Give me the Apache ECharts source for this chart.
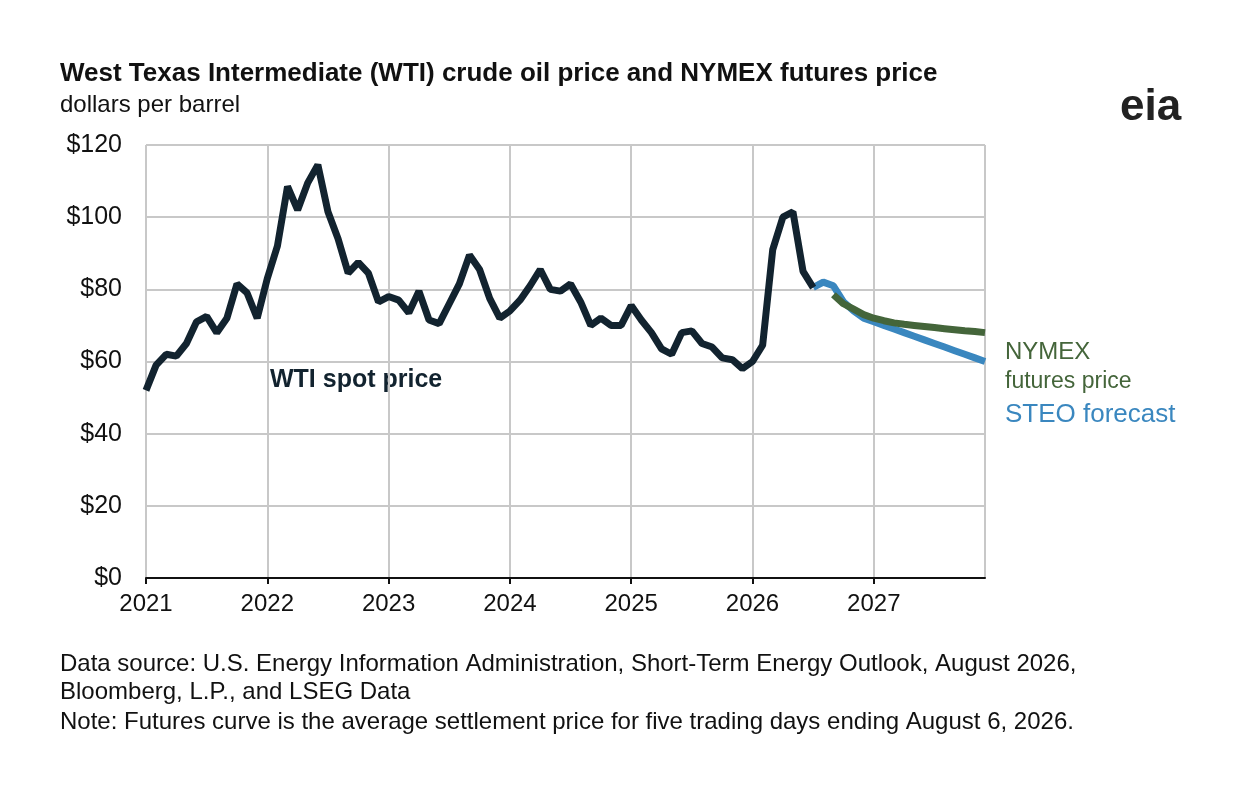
<!DOCTYPE html>
<html><head><meta charset="utf-8">
<script src="https://cdn.jsdelivr.net/npm/echarts@6/dist/echarts.min.js"></script>
<style>body{margin:0;background:#fff}#c{width:1248px;height:806px}</style>
</head><body><div id="c"></div>
<script>
var years = ['2021', '2022', '2023', '2024', '2025', '2026', '2027'];
var months = [];
years.forEach(function (y) { for (var m = 1; m <= 12; m++) months.push(y + '-' + m); });

var wtiSpot = [52, 59, 62, 61.5, 65, 71, 72.5, 68, 72, 81.5, 79, 72,
	83, 92, 108.5, 102, 109.5, 114.5, 101.5, 94, 84.5, 87.5, 84.5, 76.5,
	78, 77, 73.5, 79.5, 71.5, 70.5, 76, 81.5, 89.5, 85.5, 77.5, 72,
	74, 77, 81, 85.5, 80, 79.5, 81.5, 76.5, 70, 72, 70, 70,
	75.5, 71.5, 68, 63.5, 62, 68, 68.5, 65, 64, 61, 60.5, 58,
	60, 64.5, 91, 100, 101.5, 85, 80.5];
var steo = [80.5, 82, 81, 76.5, 74, 72,
	71, 70, 69, 68, 67, 66, 65, 64, 63, 62, 61, 60];
var nymex = [78.5, 76, 74.5, 73,
	72, 71.3, 70.7, 70.3, 70, 69.7, 69.4, 69.1, 68.8, 68.5, 68.3, 68];
var yTicks = [0, 20, 40, 60, 80, 100, 120];

function pad(arr, start) {
	var out = [];
	for (var i = 0; i < months.length; i++) {
		var j = i - start;
		out.push(j >= 0 && j < arr.length ? arr[j] : null);
	}
	return out;
}

var chart = echarts.init(document.getElementById('c'));
var font = 'Liberation Sans, Arial, sans-serif';
chart.setOption({
	animation: false,
	textStyle: { fontFamily: font },
	grid: { left: 146, right: 263, top: 145, bottom: 228 },
	graphic: [
		{ type: 'text', left: 60, top: 61, style: { text: 'West Texas Intermediate (WTI) crude oil price and NYMEX futures price', font: 'bold 26px ' + font, fill: '#111' } },
		{ type: 'text', left: 60, top: 93, style: { text: 'dollars per barrel', font: '24px ' + font, fill: '#111' } },
		{ type: 'text', left: 1120, top: 86, style: { text: 'eia', font: 'bold 44px ' + font, fill: '#222' } },
		{ type: 'text', left: 270, top: 368, style: { text: 'WTI spot price', font: 'bold 25px ' + font, fill: '#12232f' } },
		{ type: 'text', left: 1005, top: 340, style: { text: 'NYMEX', font: '24px ' + font, fill: '#44653a' } },
		{ type: 'text', left: 1005, top: 370, style: { text: 'futures price', font: '23px ' + font, fill: '#44653a' } },
		{ type: 'text', left: 1005, top: 402, style: { text: 'STEO forecast', font: '26px ' + font, fill: '#3a87bf' } },
		{ type: 'text', left: 60, top: 650, style: { text: 'Data source: U.S. Energy Information Administration, Short-Term Energy Outlook, August 2026,\nBloomberg, L.P., and LSEG Data', font: '24px ' + font, fill: '#111', lineHeight: 28 } },
		{ type: 'text', left: 60, top: 710, style: { text: 'Note: Futures curve is the average settlement price for five trading days ending August 6, 2026.', font: '24px ' + font, fill: '#111' } }
	],
	xAxis: {
		type: 'category', data: months, boundaryGap: false,
		axisLine: { lineStyle: { color: '#111', width: 2 } },
		axisTick: { interval: function (i) { return i % 12 === 0; }, length: 6, lineStyle: { color: '#111', width: 2 } },
		axisLabel: { interval: function (i) { return i % 12 === 0; }, formatter: function (v) { return v.split('-')[0]; }, fontSize: 24, color: '#111', margin: 14 },
		splitLine: { show: true, interval: function (i) { return i % 12 === 0 || i === months.length - 1; }, lineStyle: { color: '#c8c8c8', width: 2 } }
	},
	yAxis: {
		type: 'value', min: yTicks[0], max: yTicks[yTicks.length - 1], interval: 20,
		axisLine: { show: false }, axisTick: { show: false },
		axisLabel: { formatter: '${value}', fontSize: 25, color: '#111', margin: 24 },
		splitLine: { lineStyle: { color: '#c8c8c8', width: 2 } }
	},
	series: [
		{ type: 'line', data: pad(steo, 66), showSymbol: false, lineStyle: { color: '#3a87bf', width: 7 }, z: 2 },
		{ type: 'line', data: pad(nymex, 68), showSymbol: false, lineStyle: { color: '#44653a', width: 7 }, z: 3 },
		{ type: 'line', data: pad(wtiSpot, 0), showSymbol: false, lineStyle: { color: '#12232f', width: 7 }, z: 4 }
	]
});
</script></body></html>
